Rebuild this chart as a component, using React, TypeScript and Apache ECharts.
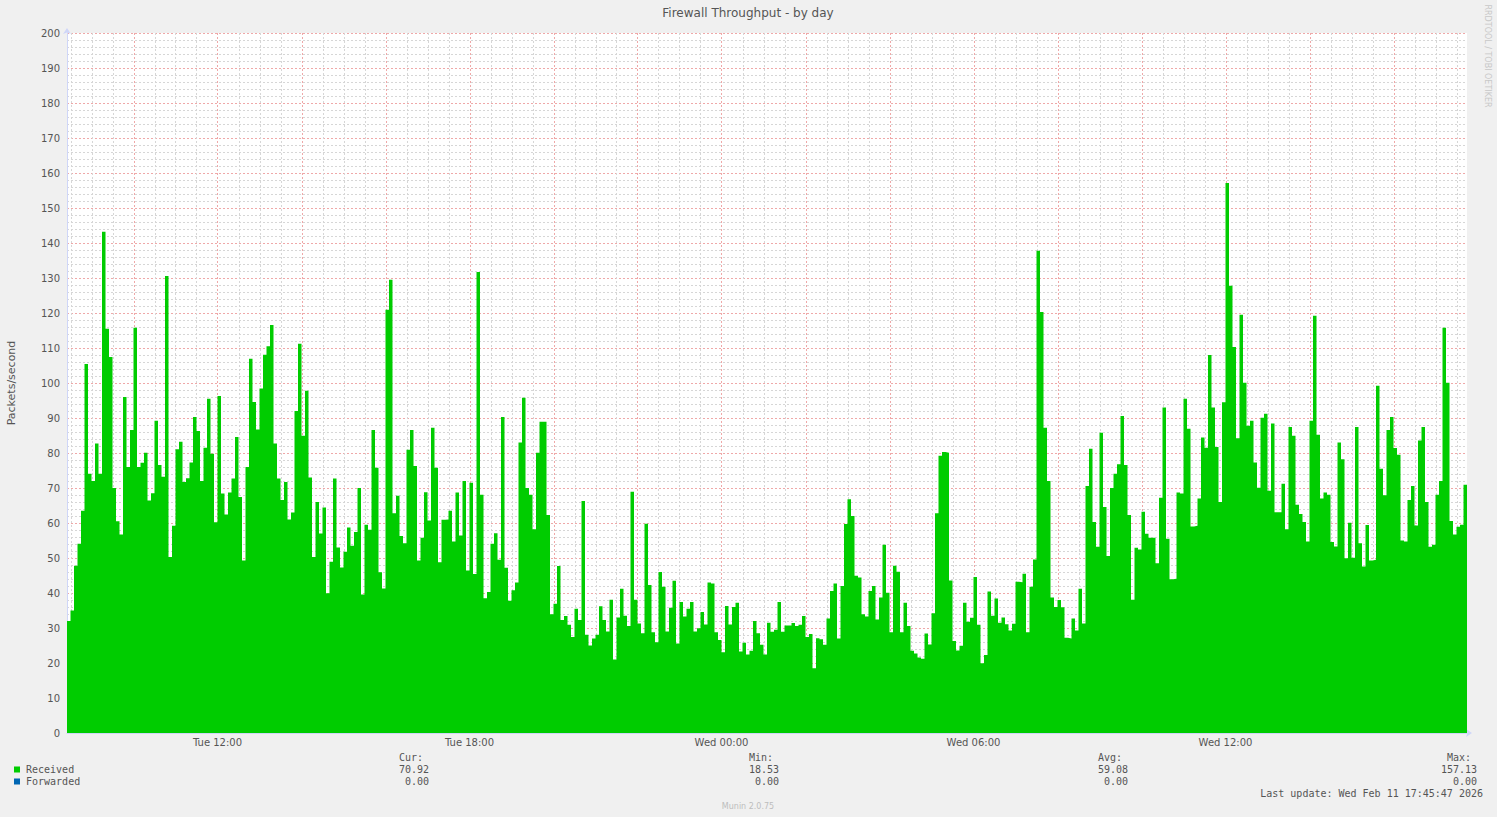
import React, { useEffect, useRef } from "react";
import * as echarts from "echarts";

// ---- Data (packets/second, 5-minute steps) ----
const START_MIN = 505; // Tue 08:25, minutes since Tue 00:00
const STEP_MIN = 5;
const DAY_NAMES = ["Tue", "Wed"];

const received: number[] = [
  32, 35, 47.8, 54.1, 63.5, 105.4, 74.1, 72, 82.7, 74.1,
  143.2, 115.5, 107.4, 70, 60.5, 56.7, 96, 76, 86.6, 115.8,
  76, 77.2, 80.1, 66.4, 68.5, 89.2, 76.6, 73.2, 130.6, 50.3,
  59.2, 81.1, 83.2, 71.7, 72.8, 77.3, 90.3, 86.3, 72, 81.5,
  95.5, 79.8, 60.2, 96.3, 68.4, 62.4, 68.7, 72.7, 84.6, 67.4,
  49.3, 76, 106.9, 94.6, 86.7, 98.4, 108.1, 110.5, 116.6, 82.7,
  72.7, 66.6, 71.7, 61, 63, 92, 111.2, 84.9, 97.8, 73,
  50.3, 66, 57, 64.4, 39.9, 48.9, 72.7, 53, 47.3, 51.8,
  58.7, 53.5, 57.4, 70, 39.6, 59.5, 58.1, 86.6, 75.8, 45.9,
  41.3, 120.9, 129.5, 62.8, 67.8, 56.3, 54.2, 80.9, 86.6, 76.3,
  49.3, 55.8, 68.8, 60.7, 87.2, 75.8, 48.8, 60.9, 61, 63.5,
  54.7, 68.7, 56.4, 72, 46.4, 71.5, 45.4, 131.7, 68.1, 38.5,
  40.3, 54.1, 57.1, 49.5, 90.3, 47.2, 37.8, 40.8, 43, 83,
  95.8, 70, 68.1, 58.2, 80.1, 88.9, 88.9, 62.3, 33.9, 36.9,
  47.7, 32.3, 33.4, 30.9, 27.4, 35.5, 32.3, 66.3, 28.1, 25,
  27, 28.1, 36.2, 32.3, 29, 38.1, 21, 33, 41.2, 33.5,
  30.6, 68.9, 38.1, 31.3, 28.5, 59.8, 42.3, 28.8, 25.9, 46,
  41.8, 29, 35.8, 43.5, 25.6, 37.4, 33.3, 35.5, 37.4, 29,
  29.9, 34.6, 31, 43, 42.7, 28.8, 26.6, 23.1, 36.3, 31,
  36, 37.2, 23.3, 25.8, 22.4, 23.5, 32, 28.5, 25.2, 22.4,
  31.5, 28.9, 29.5, 37.4, 28.9, 30.7, 30.7, 31.4, 30.6, 30.9,
  33.4, 27.4, 28.3, 18.53, 27.1, 26.8, 25.2, 32.7, 40.6, 42.7,
  27, 42, 59.7, 66.8, 62, 44.9, 44.4, 33.9, 33.3, 40.6,
  42, 32.4, 38.7, 53.8, 40.1, 28.8, 47.8, 46.1, 28.8, 37.2,
  30.6, 23.5, 22.7, 21.6, 21.2, 28.4, 25.3, 34.2, 62.8, 79.2,
  80.3, 80.1, 43.6, 26.3, 23.6, 24.9, 37.2, 31.8, 32.9, 44.6,
  30.9, 19.9, 22.3, 40.4, 33.5, 38.4, 31.5, 33, 31.1, 29.3,
  31.2, 43.2, 43.1, 45.5, 28.8, 41.8, 49.6, 137.8, 120.3, 87.2,
  72, 38.7, 36, 38, 35.9, 27.2, 27, 32.7, 29.3, 41.2,
  31.3, 70.6, 81.2, 60.3, 53.2, 85.8, 64.6, 50.6, 70, 74.1,
  76.8, 90.6, 76.6, 62.3, 38.1, 52.9, 52.4, 63.2, 56.9, 55.8,
  55.8, 48.5, 67.2, 93, 55.5, 43.9, 44.1, 68.7, 68.4, 95.5,
  86.9, 59, 59.2, 67, 84.4, 81.5, 108, 93, 81.7, 66,
  94.5, 157.13, 127.8, 110.3, 84.2, 119.5, 100.1, 87.8, 89.2, 77.3,
  70.1, 90.1, 91.2, 69.2, 88.4, 63.1, 63.1, 71.2, 58.2, 87.4,
  84.9, 65.2, 62.6, 60.3, 54.7, 89.2, 119.2, 85.2, 67, 68.7,
  68.1, 54.6, 53.3, 83, 78.2, 49.9, 60.1, 50.1, 87.4, 54.2,
  47.6, 59.4, 49.3, 49.5, 99.2, 75.5, 67.9, 86.6, 90.3, 81.4,
  79.5, 55, 54.7, 66.6, 70.6, 59.3, 83.6, 87.4, 66, 53.2,
  53.8, 68.1, 72, 115.8, 100.1, 60.6, 56.7, 58.9, 59.5, 70.92,
];

const Y_MIN = 0;
const Y_MAX = 200;
const Y_MINOR = 2;
const Y_MAJOR = 10;
const X_MINOR_MIN = 30;
const X_MAJOR_MIN = 120;
const X_LABEL_TIMES = [720, 1080, 1440, 1800, 2160]; // Tue 12:00 ... Wed 12:00

const legendNames = ["Received", "Forwarded"];
const legendColors = ["#00CC00", "#0066B3"];
const statHeaders = ["Cur:", "Min:", "Avg:", "Max:"];
const curValues = ["70.92", "0.00"];
const minValues = ["18.53", "0.00"];
const avgValues = ["59.08", "0.00"];
const maxValues = ["157.13", "0.00"];

const TITLE = "Firewall Throughput - by day";
const Y_NAME = "Packets/second";
const LAST_UPDATE = "Last update: Wed Feb 11 17:45:47 2026";
const FOOTER = "Munin 2.0.75";
const WATERMARK = "RRDTOOL / TOBI OETIKER";

function timeOf(idx: number) {
  return START_MIN + idx * STEP_MIN;
}
function fmtTime(t: number) {
  const day = Math.floor(t / 1440);
  const m = ((t % 1440) + 1440) % 1440;
  const hh = String(Math.floor(m / 60)).padStart(2, "0");
  const mm = String(m % 60).padStart(2, "0");
  return `${DAY_NAMES[day] ?? ""} ${hh}:${mm}`;
}

export default function App() {
  const ref = useRef<HTMLDivElement>(null);

  useEffect(() => {
    if (!ref.current) return;
    const chart = echarts.init(ref.current, undefined, { renderer: "svg" });

    const endMin = timeOf(received.length);
    const seriesData = [
      ...received.map((v, i) => [timeOf(i), v]),
      [endMin, received[received.length - 1]],
    ];

    // vertical grid positions (every 30 min, major every 2 h)
    const gridTimes: number[][] = [];
    const firstGrid = Math.ceil(START_MIN / X_MINOR_MIN) * X_MINOR_MIN;
    for (let t = firstGrid; t < endMin; t += X_MINOR_MIN) {
      gridTimes.push([t, t % X_MAJOR_MIN === 0 ? 1 : 0]);
    }

    const mono = "DejaVu Sans Mono";
    const sans = "DejaVu Sans";
    const fontColor = "#555555";
    const colRights = [429, 779, 1128, 1477];
    const statCols = [curValues, minValues, avgValues, maxValues];

    const minorColor = "#D6D6D6";
    const majorColor = "#EFA8A8";
    const axisColor = "#CFD6F8";

    const graphic: any[] = [
      {
        type: "text",
        x: 748,
        y: 13,
        style: { text: TITLE, fill: "#555555", font: `12px "${sans}"`, textAlign: "center", textVerticalAlign: "middle" },
      },
      {
        type: "text",
        x: 11,
        y: 383,
        rotation: Math.PI / 2,
        style: { text: Y_NAME, fill: fontColor, font: `11px "${sans}"`, textAlign: "center", textVerticalAlign: "middle" },
      },
      {
        type: "text",
        x: 1487,
        y: 56,
        rotation: -Math.PI / 2,
        style: { text: WATERMARK, fill: "#C8C8C8", font: `8px "${sans}"`, textAlign: "center", textVerticalAlign: "middle" },
      },
      {
        type: "text",
        x: 748,
        y: 806,
        style: { text: FOOTER, fill: "#BDBDBD", font: `8px "${sans}"`, textAlign: "center", textVerticalAlign: "middle" },
      },
      {
        type: "text",
        x: 1483,
        y: 793,
        style: { text: LAST_UPDATE, fill: fontColor, font: `10px "${mono}"`, textAlign: "right", textVerticalAlign: "middle" },
      },
    ];

    legendNames.forEach((name, i) => {
      const cy = 769.5 + i * 12;
      graphic.push({
        type: "rect",
        shape: { x: 14, y: cy - 3, width: 6, height: 6 },
        style: { fill: legendColors[i] },
      });
      graphic.push({
        type: "text",
        x: 26,
        y: cy,
        style: { text: name, fill: fontColor, font: `10px "${mono}"`, textAlign: "left", textVerticalAlign: "middle" },
      });
      statCols.forEach((col, c) => {
        graphic.push({
          type: "text",
          x: colRights[c],
          y: cy,
          style: { text: col[i], fill: fontColor, font: `10px "${mono}"`, textAlign: "right", textVerticalAlign: "middle" },
        });
      });
    });
    statHeaders.forEach((h, c) => {
      graphic.push({
        type: "text",
        x: colRights[c] - 6,
        y: 757.5,
        style: { text: h, fill: fontColor, font: `10px "${mono}"`, textAlign: "right", textVerticalAlign: "middle" },
      });
    });

    chart.setOption({
      animation: false,
      backgroundColor: "#F0F0F0",
      grid: {
        left: 67,
        top: 33,
        width: 1400,
        height: 700,
        show: true,
        backgroundColor: "#FFFFFF",
        borderWidth: 0,
        containLabel: false,
      },
      xAxis: {
        type: "value",
        min: START_MIN,
        max: endMin,
        axisLine: {
          show: true,
          onZero: false,
          lineStyle: { color: axisColor, width: 1 },
          symbol: ["none", "arrow"],
          symbolSize: [6, 6],
          symbolOffset: [0, 5],
        },
        axisTick: { show: false },
        splitLine: { show: false },
        axisLabel: {
          show: true,
          customValues: X_LABEL_TIMES,
          formatter: (v: number) => fmtTime(v),
          color: fontColor,
          fontFamily: sans,
          fontSize: 10,
          margin: 4,
          hideOverlap: false,
        },
      },
      yAxis: [
        {
          type: "value",
          min: Y_MIN,
          max: Y_MAX,
          interval: Y_MINOR,
          position: "left",
          axisLine: {
            show: true,
            onZero: false,
            lineStyle: { color: axisColor, width: 1 },
            symbol: ["none", "arrow"],
            symbolSize: [6, 6],
            symbolOffset: [0, 5],
          },
          axisTick: { show: false },
          axisLabel: { show: false },
          splitLine: { show: true, lineStyle: { color: minorColor, width: 1, type: [2, 2] } },
        },
        {
          type: "value",
          min: Y_MIN,
          max: Y_MAX,
          interval: Y_MAJOR,
          position: "left",
          axisLine: { show: false },
          axisTick: { show: false },
          axisLabel: { show: true, color: fontColor, fontFamily: sans, fontSize: 10, margin: 7 },
          splitLine: { show: true, lineStyle: { color: majorColor, width: 1, type: [2, 2] } },
        },
      ],
      series: [
        {
          name: "vgrid",
          type: "custom",
          data: gridTimes,
          encode: { x: 0 },
          z: 1,
          silent: true,
          clip: true,
          renderItem: (params: any, api: any) => {
            const cs = params.coordSys;
            const x = Math.round(api.coord([api.value(0), 0])[0]) + 0.5;
            const major = api.value(1) === 1;
            return {
              type: "line",
              shape: { x1: x, y1: cs.y, x2: x, y2: cs.y + cs.height },
              style: {
                stroke: major ? majorColor : minorColor,
                lineWidth: 1,
                lineDash: [2, 2],
                fill: null,
              },
            };
          },
        },
        {
          name: legendNames[0],
          type: "line",
          yAxisIndex: 0,
          step: "end",
          data: seriesData,
          showSymbol: false,
          symbol: "none",
          silent: true,
          lineStyle: { width: 0, color: legendColors[0] },
          areaStyle: { color: legendColors[0], opacity: 1 },
          z: 5,
        },
      ],
      graphic,
    });

    return () => chart.dispose();
  }, []);

  return (
    <div
      ref={ref}
      style={{ position: "fixed", left: 0, top: 0, width: 1497, height: 817, background: "#F0F0F0" }}
    />
  );
}
